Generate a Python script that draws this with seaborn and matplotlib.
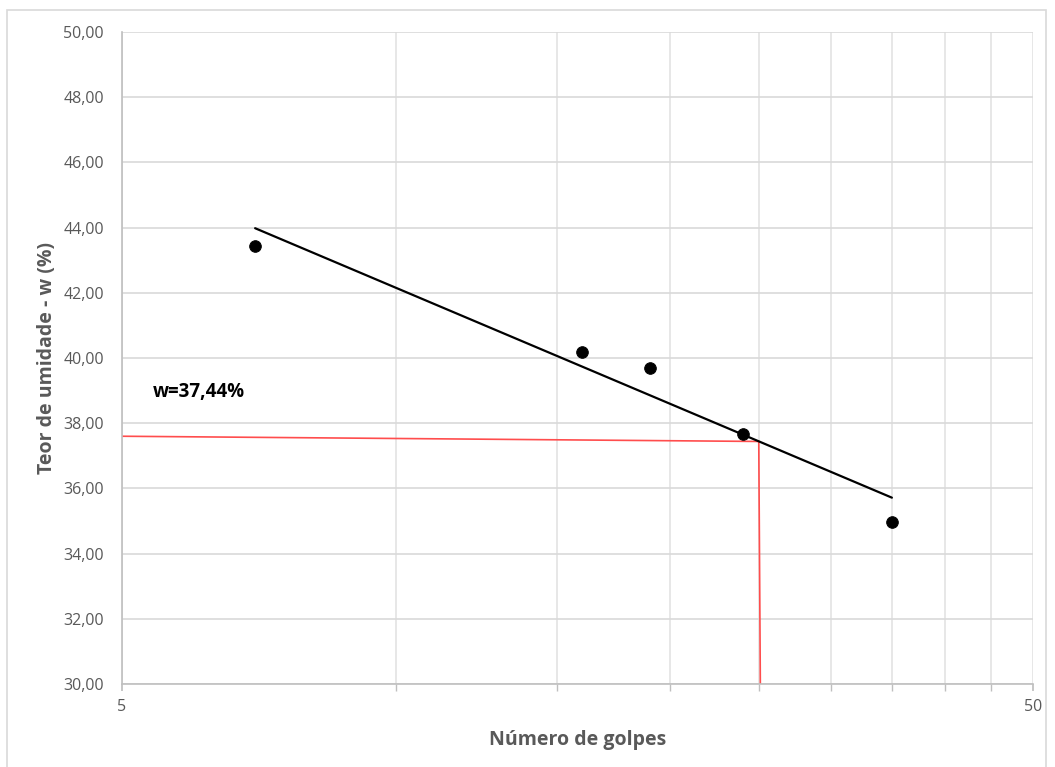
import numpy as np
import pandas as pd
import matplotlib
matplotlib.use("Agg")
import matplotlib.pyplot as plt
import seaborn as sns
from matplotlib.ticker import FixedLocator, FuncFormatter, NullFormatter
from matplotlib.patches import Rectangle

# Data
golpes = [7, 16, 19, 24, 35]
umidade = [43.45, 40.17, 39.68, 37.68, 34.96]
red_h_x = [5, 25]
red_h_y = [37.60, 37.44]
red_v_x = [25, 25.1]
red_v_y = [37.44, 30.0]
label_text = "w=37,44%"

df = pd.DataFrame({"golpes": golpes, "umidade": umidade})

# logarithmic trend line (Excel style): w = a*ln(N) + b
a, b = np.polyfit(np.log(golpes), umidade, 1)
x_fit = np.array([min(golpes), max(golpes)])
trend = pd.DataFrame({"golpes": x_fit, "umidade": a * np.log(x_fit) + b})

sns.set_theme(style="white")
plt.rcParams['font.family'] = ['Open Sans', 'DejaVu Sans']

fig = plt.figure(figsize=(10.55, 7.67), dpi=100)
ax = fig.add_axes([122/1055, 83/767, 911/1055, 652/767])

# outer chart border
top = 1 - 10/767
fig.patches.append(Rectangle((7/1055, -0.05), 1039/1055, top + 0.05,
                             transform=fig.transFigure, fill=False,
                             edgecolor="#d9d9d9", linewidth=1.2))

ax.set_xscale("log")
ax.set_xlim(5, 50)
ax.set_ylim(30, 50)

# gridlines
ax.xaxis.set_major_locator(FixedLocator([5, 50]))
ax.xaxis.set_minor_locator(FixedLocator([10, 15, 20, 25, 30, 35, 40, 45]))
ax.xaxis.set_major_formatter(FuncFormatter(lambda v, p: f"{v:.0f}"))
ax.xaxis.set_minor_formatter(NullFormatter())
ax.set_yticks(np.arange(30, 50.1, 2))
ax.yaxis.set_major_formatter(FuncFormatter(lambda v, p: f"{v:.2f}".replace(".", ",")))
ax.grid(True, which="both", axis="x", color="#e3e3e3", linewidth=1.2)
ax.grid(True, which="major", axis="y", color="#d9d9d9", linewidth=1.2)
ax.set_axisbelow(True)

for s in ["top", "right"]:
    ax.spines[s].set_visible(False)
ax.spines["left"].set_color("#bfbfbf")
ax.spines["bottom"].set_color("#bfbfbf")
ax.spines["left"].set_linewidth(1.2)
ax.spines["bottom"].set_linewidth(1.2)

ax.tick_params(axis="x", which="both", bottom=True, length=5, color="#bfbfbf",
               labelsize=11.5, labelcolor="#595959", pad=6)
ax.tick_params(axis="y", which="both", left=False, labelsize=11.5,
               labelcolor="#595959", pad=7)

# red reference lines
ax.plot(red_h_x, red_h_y, color="#ff4d4d", linewidth=1.2)
ax.plot(red_v_x, red_v_y, color="#ff4d4d", linewidth=1.2)

sns.lineplot(data=trend, x="golpes", y="umidade", color="black", linewidth=1.6, ax=ax)
sns.scatterplot(data=df, x="golpes", y="umidade", color="black", s=70,
                edgecolor="black", zorder=5, ax=ax)

ax.text(5.4, 38.96, label_text, fontsize=13.5, fontweight="bold",
        color="black", va="center", ha="left")

ax.set_xlabel("Número de golpes", fontsize=14, fontweight="bold", color="#595959")
ax.set_ylabel("Teor de umidade - w (%)", fontsize=14, fontweight="bold", color="#595959")
ax.xaxis.set_label_coords(0.5, -0.0705)
ax.yaxis.set_label_coords(-0.071, 0.5)

fig.savefig("out.png", dpi=100)
